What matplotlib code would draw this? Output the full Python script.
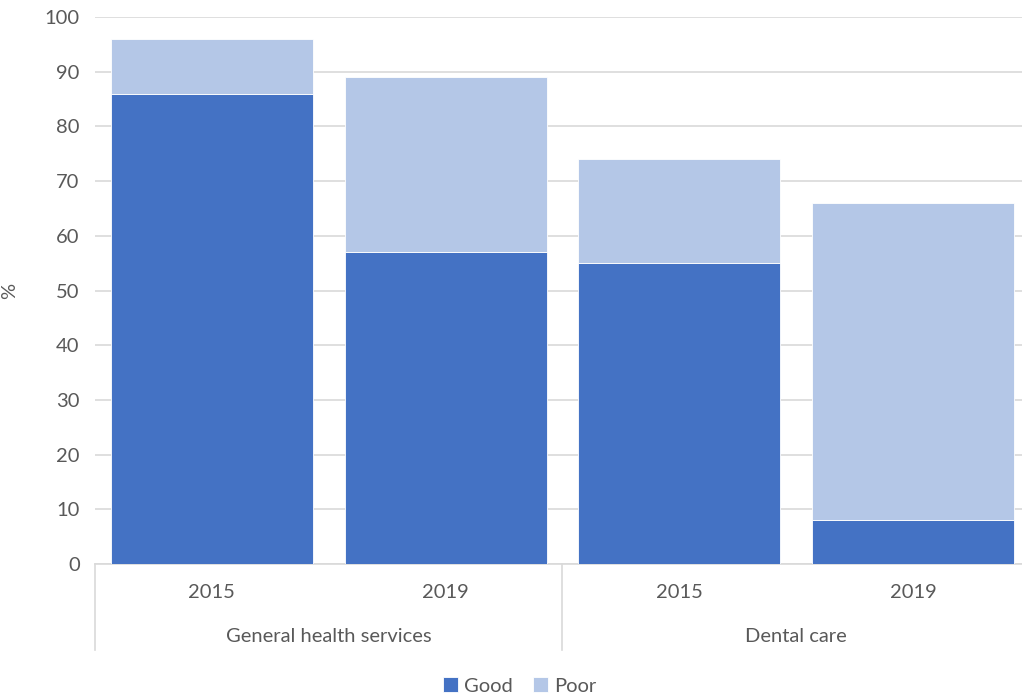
import numpy as np
import matplotlib
matplotlib.use('Agg')
import matplotlib.pyplot as plt

plt.rcParams['font.family'] = ['Lato', 'DejaVu Sans']

# ── Datos ─────────────────────────────────────────────────────────────────────
grupos = ['General health services', 'Dental care']
anios = ['2015', '2019', '2015', '2019']
good = [86, 57, 55, 8]
poor = [10, 32, 19, 58]
series = ['Good', 'Poor']
colores = ['#4472C4', '#B4C7E7']

GRIS_TXT = '#595959'
GRIS_LIN = '#D9D9D9'
FS = 14.5

fig = plt.figure(figsize=(10.22, 6.98), dpi=100)
ax = fig.add_axes([95 / 1022, (698 - 564) / 698, 1 - 95 / 1022, (564 - 17) / 698])

x = np.arange(len(anios))
ax.bar(x, good, width=0.865, color=colores[0], edgecolor='white', linewidth=0.6,
       label=series[0], zorder=3)
ax.bar(x, poor, bottom=good, width=0.865, color=colores[1], edgecolor='white',
       linewidth=0.6, label=series[1], zorder=3)

ax.set_ylim(0, 100)
ax.set_xlim(-0.5, 3.5 - 8 / 234)
ax.set_yticks(range(0, 101, 10))
ax.yaxis.grid(True, color=GRIS_LIN, lw=1.2, zorder=0)
ax.tick_params(axis='y', length=0, pad=11, labelsize=FS, labelcolor=GRIS_TXT)
ax.set_xticks([])
for s in ['top', 'right', 'left']:
    ax.spines[s].set_visible(False)
ax.spines['bottom'].set_color(GRIS_LIN)
ax.spines['bottom'].set_linewidth(1.2)
ax.set_ylabel('%', fontsize=FS, color=GRIS_TXT)
ax.yaxis.set_label_coords((18 - 95) / 927, 0.5)

# Eje de categorías en dos niveles
trans = ax.get_xaxis_transform()
sep_len = (650 - 564) / (564 - 17)
for xs in [-0.5, 1.5]:
    ax.plot([xs, xs], [0, -sep_len], transform=trans, color=GRIS_LIN, lw=1.2,
            clip_on=False)
y_anio = -(593 - 564) / (564 - 17)
y_grupo = -(636 - 564) / (564 - 17)
for xi, a in zip(x, anios):
    ax.text(xi, y_anio, a, transform=trans, ha='center', va='center',
            fontsize=FS, color=GRIS_TXT)
for i, g in enumerate(grupos):
    ax.text(2 * i + 0.5, y_grupo, g, transform=trans, ha='center', va='center',
            fontsize=FS, color=GRIS_TXT)

fig.legend(loc='center', bbox_to_anchor=(520 / 1022, 1 - 686 / 698), ncol=2,
           frameon=False, fontsize=FS, handlelength=0.75, handleheight=0.75,
           handletextpad=0.3, columnspacing=1.0, labelcolor=GRIS_TXT,
           borderpad=0)

fig.savefig('out.png', dpi=100)
